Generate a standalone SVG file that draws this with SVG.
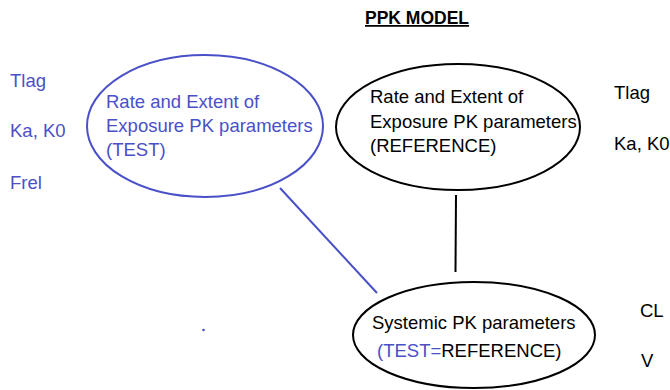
<svg xmlns="http://www.w3.org/2000/svg" width="670" height="390" viewBox="0 0 670 390">
<style>
text{font-family:"Liberation Sans",Arial,sans-serif;font-size:18.5px;}
.b{fill:#4a50c8;}
.k{fill:#000;}
.eb{fill:none;stroke:#4a50c8;stroke-width:2;}
.ek{fill:none;stroke:#000;stroke-width:2;}
</style>
<rect width="670" height="390" fill="#fff"/>
<text x="365" y="24" class="k" style="font-weight:bold;font-size:17.5px;text-decoration:underline">PPK MODEL</text>
<g id="labels-left">
<text x="10" y="87" class="b">Tlag</text>
<text x="10" y="137" class="b">Ka, K0</text>
<text x="10" y="189" class="b">Frel</text>
</g>
<g id="labels-right">
<text x="614" y="99" class="k">Tlag</text>
<text x="614" y="150" class="k">Ka, K0</text>
<text x="640" y="317" class="k">CL</text>
<text x="641" y="367" class="k">V</text>
</g>
<g id="connectors">
<line x1="280" y1="188" x2="377" y2="293" stroke="#4a50c8" stroke-width="2"/>
<line x1="456" y1="195" x2="455.5" y2="272" stroke="#000" stroke-width="2"/>
</g>
<g id="test">
<ellipse cx="205" cy="126" rx="118" ry="71" class="eb"/>
<text x="106" y="108" class="b">Rate and Extent of</text>
<text x="106" y="132" class="b">Exposure PK parameters</text>
<text x="106" y="156" class="b">(TEST)</text>
</g>
<g id="reference">
<ellipse cx="458" cy="127" rx="122" ry="63" class="ek"/>
<text x="370" y="103" class="k">Rate and Extent of</text>
<text x="370" y="128" class="k">Exposure PK parameters</text>
<text x="370" y="152" class="k">(REFERENCE)</text>
</g>
<g id="systemic">
<ellipse cx="474" cy="335" rx="121" ry="53" class="ek"/>
<text x="372" y="329" class="k">Systemic PK parameters</text>
<text x="377" y="357"><tspan class="b">(TEST=</tspan><tspan class="k">REFERENCE)</tspan></text>
</g>
<circle cx="203.5" cy="330" r="1.3" fill="#4a50c8"/>
</svg>
